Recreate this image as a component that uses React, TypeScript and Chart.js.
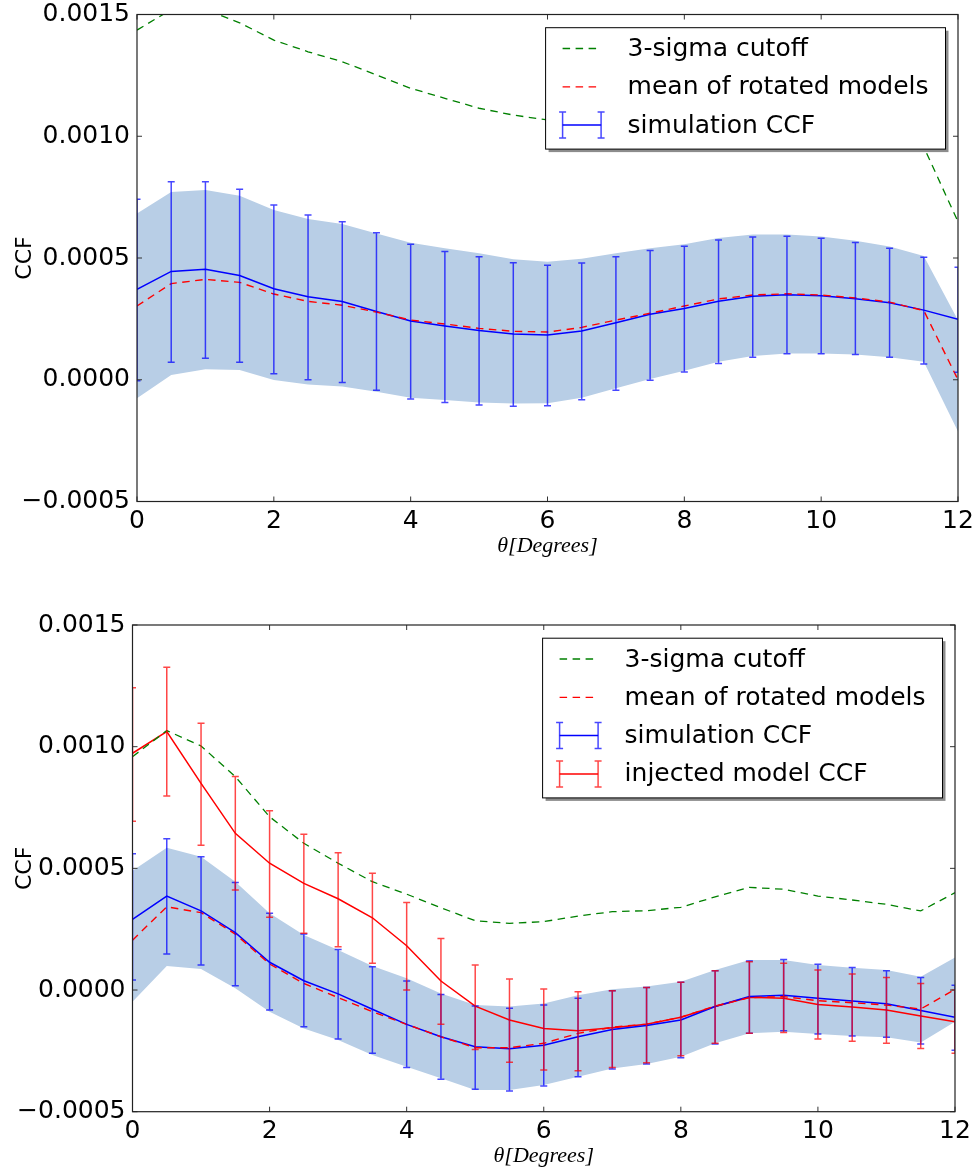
import React, { useEffect, useRef } from "react";
import { Chart, registerables } from "chart.js";

Chart.register(...registerables);

// ---------------- data ----------------
const THETA = [0, 0.5, 1, 1.5, 2, 2.5, 3, 3.5, 4, 4.5, 5, 5.5, 6, 6.5, 7, 7.5, 8, 8.5, 9, 9.5, 10, 10.5, 11, 11.5, 12];

const X_TICK_STEP = 2;
const Y_TICK_STEP = 0.0005;
const Y_MIN = -0.0005;
const Y_MAX = 0.0015;

const LABEL_CUTOFF = "3-sigma cutoff";
const LABEL_MEAN = "mean of rotated models";
const LABEL_SIM = "simulation CCF";
const LABEL_INJ = "injected model CCF";
const X_TITLE = "θ[Degrees]";
const Y_TITLE = "CCF";

// top panel
const cutoffTop = [0.001436, 0.00152, 0.00152, 0.001466, 0.001395, 0.001347, 0.001306, 0.001252, 0.001197, 0.001156, 0.001115, 0.001087, 0.001067, 0.00106, 0.00105, 0.00104, 0.00103, 0.00102, 0.00101, 0.001, 0.00099, 0.00098, 0.00097, 0.000956, 0.000649];
const meanTop = [0.000303, 0.000395, 0.000412, 0.0004, 0.000352, 0.000322, 0.000306, 0.000278, 0.000245, 0.000229, 0.000211, 0.000199, 0.000196, 0.000215, 0.000245, 0.000273, 0.000303, 0.000332, 0.000348, 0.000353, 0.000348, 0.000336, 0.000319, 0.000284, 0.0];
const simTop = [0.000371, 0.000445, 0.000454, 0.000428, 0.000374, 0.000341, 0.000321, 0.00028, 0.000241, 0.000221, 0.000202, 0.000188, 0.000184, 0.0002, 0.000234, 0.000269, 0.000293, 0.000322, 0.000343, 0.000349, 0.000345, 0.000333, 0.000316, 0.000286, 0.000248];
const simHiTop = [0.000741, 0.000813, 0.000813, 0.000782, 0.000718, 0.000677, 0.000649, 0.000604, 0.000556, 0.000527, 0.000505, 0.000481, 0.00047, 0.000479, 0.000505, 0.000531, 0.000548, 0.000574, 0.000586, 0.000589, 0.000581, 0.000564, 0.00054, 0.000503, 0.000462];
const simLoTop = [-0.000004, 0.000072, 0.000088, 0.000072, 0.000025, 0.0, -0.000011, -0.000043, -0.000079, -0.000093, -0.000104, -0.000109, -0.000107, -0.000082, -0.000043, -0.000002, 0.000032, 0.000067, 0.000092, 0.000107, 0.000107, 0.000104, 0.000092, 0.000065, 0.000031];
const bandHiTop = [0.000683, 0.000771, 0.000779, 0.000756, 0.000697, 0.00066, 0.00064, 0.000601, 0.000563, 0.00054, 0.000519, 0.000495, 0.000485, 0.000497, 0.000519, 0.00054, 0.000556, 0.000582, 0.000596, 0.000597, 0.000588, 0.000571, 0.000547, 0.000508, 0.000244];
const bandLoTop = [-0.000076, 0.00002, 0.000043, 0.00004, -0.000001, -0.000019, -0.000028, -0.000049, -0.000074, -0.000083, -0.000093, -0.000098, -0.000097, -0.000074, -0.000035, 0.000003, 0.000037, 0.000074, 0.000098, 0.000108, 0.000108, 0.000104, 0.000092, 0.000074, -0.000213];

// bottom panel
const cutoffBot = [0.000959, 0.001066, 0.001003, 0.000877, 0.000712, 0.000603, 0.000521, 0.000445, 0.000394, 0.000338, 0.000285, 0.000274, 0.000281, 0.000304, 0.000322, 0.000326, 0.00034, 0.000383, 0.000422, 0.000414, 0.000386, 0.00037, 0.000352, 0.000325, 0.0004];
const meanBot = [0.000205, 0.000342, 0.000318, 0.00023, 0.000107, 0.000027, -0.000031, -0.000089, -0.000141, -0.000192, -0.000237, -0.000237, -0.000219, -0.000178, -0.000153, -0.00014, -0.000112, -0.000066, -0.000031, -0.000027, -0.000044, -0.000052, -0.000062, -0.000078, 0.000003];
const simBot = [0.00029, 0.000386, 0.000325, 0.000236, 0.000114, 0.000038, -0.000016, -0.000079, -0.000141, -0.000192, -0.000233, -0.000241, -0.000227, -0.000192, -0.000162, -0.000146, -0.000123, -0.000068, -0.000027, -0.000021, -0.000034, -0.000045, -0.000056, -0.000084, -0.000112];
const simHiBot = [0.00056, 0.000622, 0.000548, 0.000442, 0.000315, 0.00023, 0.000167, 0.000096, 0.000037, -0.000018, -0.000066, -0.000075, -0.000062, -0.000034, -0.000003, 0.00001, 0.000032, 0.000079, 0.000119, 0.000125, 0.000106, 0.000093, 0.000079, 0.000051, 0.00002];
const simLoBot = [0.000041, 0.000148, 0.000103, 0.000018, -0.000082, -0.000151, -0.000201, -0.00026, -0.000318, -0.000367, -0.000408, -0.000415, -0.000394, -0.000356, -0.000325, -0.000304, -0.000278, -0.000222, -0.000178, -0.000167, -0.000181, -0.000189, -0.000194, -0.000222, -0.000247];
const injBot = [0.000973, 0.001062, 0.000849, 0.000644, 0.000521, 0.000438, 0.000375, 0.000297, 0.000182, 0.000037, -0.000066, -0.000123, -0.000158, -0.000167, -0.000155, -0.000141, -0.000112, -0.000068, -0.00003, -0.000034, -0.000059, -0.00007, -0.000082, -0.000107, -0.00013];
const injHiBot = [0.001242, 0.001326, 0.001096, 0.000877, 0.000737, 0.00064, 0.000564, 0.00048, 0.00036, 0.000212, 0.000103, 0.000045, 0.000004, -0.000007, -0.000003, 0.00001, 0.000032, 0.000079, 0.000116, 0.00011, 0.000082, 0.000066, 0.000051, 0.000027, 0.0];
const injLoBot = [0.000694, 0.000797, 0.000595, 0.000411, 0.000299, 0.000233, 0.000178, 0.00011, 0.0, -0.000141, -0.000244, -0.000297, -0.000329, -0.000332, -0.000318, -0.000299, -0.00027, -0.000219, -0.000178, -0.000175, -0.000201, -0.00021, -0.000219, -0.00024, -0.00026];
const bandHiBot = [0.00049, 0.000585, 0.000548, 0.000445, 0.000315, 0.000226, 0.000164, 0.000099, 0.000048, -0.000014, -0.000062, -0.000068, -0.000055, -0.000021, 0.000003, 0.000014, 0.000034, 0.000082, 0.000123, 0.000123, 0.000103, 0.000092, 0.000082, 0.000055, 0.000134];
const bandLoBot = [-0.000048, 0.000099, 0.000086, 0.000007, -0.000089, -0.000158, -0.000205, -0.000267, -0.000315, -0.000363, -0.000411, -0.000411, -0.00039, -0.000356, -0.000322, -0.000304, -0.000274, -0.000219, -0.000178, -0.000171, -0.000181, -0.000189, -0.000194, -0.000216, -0.00013];

// ---------------- style ----------------
const GREEN = "#008000";
const RED = "#ff0000";
const BLUE = "#0000ff";
const BLUE_ERR = "rgba(0,0,255,0.72)";
const RED_ERR = "rgba(255,0,0,0.72)";
const BAND = "rgb(184,206,230)";
const FONT = '"DejaVu Sans", sans-serif';
const TICK_SIZE = 25;
const DASH = [7.5, 5.5];

type ErrSet = { hi: number[]; lo: number[]; color: string };
type LegendItem = { label: string; kind: "dash" | "err"; color: string; barColor?: string };

type Panel = {
  canvasTop: number;
  canvasHeight: number;
  left: number;
  right: number;
  top: number;
  bottom: number;
  lines: { label: string; data: number[]; color: string; dash?: number[]; width: number }[];
  bandHi: number[];
  bandLo: number[];
  errors: ErrSet[];
  legend: LegendItem[];
};

const W = 973;

const panels: Panel[] = [
  {
    canvasTop: 0,
    canvasHeight: 580,
    left: 137,
    right: 958,
    top: 14.5,
    bottom: 501.5,
    lines: [
      { label: LABEL_CUTOFF, data: cutoffTop, color: GREEN, dash: DASH, width: 1.3 },
      { label: LABEL_MEAN, data: meanTop, color: RED, dash: DASH, width: 1.4 },
      { label: LABEL_SIM, data: simTop, color: BLUE, width: 1.5 },
    ],
    bandHi: bandHiTop,
    bandLo: bandLoTop,
    errors: [{ hi: simHiTop, lo: simLoTop, color: BLUE_ERR }],
    legend: [
      { label: LABEL_CUTOFF, kind: "dash", color: GREEN },
      { label: LABEL_MEAN, kind: "dash", color: RED },
      { label: LABEL_SIM, kind: "err", color: BLUE, barColor: BLUE_ERR },
    ],
  },
  {
    canvasTop: 580,
    canvasHeight: 589,
    left: 132.5,
    right: 955,
    top: 45,
    bottom: 531.7,
    lines: [
      { label: LABEL_CUTOFF, data: cutoffBot, color: GREEN, dash: DASH, width: 1.3 },
      { label: LABEL_MEAN, data: meanBot, color: RED, dash: DASH, width: 1.4 },
      { label: LABEL_SIM, data: simBot, color: BLUE, width: 1.5 },
      { label: LABEL_INJ, data: injBot, color: RED, width: 1.5 },
    ],
    bandHi: bandHiBot,
    bandLo: bandLoBot,
    errors: [
      { hi: simHiBot, lo: simLoBot, color: BLUE_ERR },
      { hi: injHiBot, lo: injLoBot, color: RED_ERR },
    ],
    legend: [
      { label: LABEL_CUTOFF, kind: "dash", color: GREEN },
      { label: LABEL_MEAN, kind: "dash", color: RED },
      { label: LABEL_SIM, kind: "err", color: BLUE, barColor: BLUE_ERR },
      { label: LABEL_INJ, kind: "err", color: RED, barColor: RED_ERR },
    ],
  },
];

function fmtY(v: number): string {
  if (Math.abs(v) < 1e-12) return "0.0000";
  const s = Math.abs(v).toFixed(4);
  return v < 0 ? "\u2212" + s : s;
}

function makePlugin(p: Panel) {
  return {
    id: "decor",
    afterDatasetsDraw(chart: any) {
      const { ctx, chartArea: a } = chart;
      const xs = chart.scales.x;
      const ys = chart.scales.y;
      ctx.save();
      ctx.beginPath();
      ctx.rect(a.left, a.top, a.right - a.left, a.bottom - a.top);
      ctx.clip();
      ctx.setLineDash([]);
      for (const e of p.errors) {
        ctx.strokeStyle = e.color;
        ctx.lineWidth = 1.5;
        THETA.forEach((t, i) => {
          const px = xs.getPixelForValue(t);
          const y1 = ys.getPixelForValue(e.hi[i]);
          const y2 = ys.getPixelForValue(e.lo[i]);
          ctx.beginPath();
          ctx.moveTo(px, y1);
          ctx.lineTo(px, y2);
          ctx.moveTo(px - 3.5, y1);
          ctx.lineTo(px + 3.5, y1);
          ctx.moveTo(px - 3.5, y2);
          ctx.lineTo(px + 3.5, y2);
          ctx.stroke();
        });
      }
      ctx.restore();
    },
    afterDraw(chart: any) {
      const { ctx, chartArea: a } = chart;
      const xs = chart.scales.x;
      const ys = chart.scales.y;
      ctx.save();
      ctx.setLineDash([]);
      // inward ticks
      ctx.strokeStyle = "#333";
      ctx.lineWidth = 1;
      const TL = 5;
      for (const tk of xs.ticks) {
        const px = xs.getPixelForValue(tk.value);
        ctx.beginPath();
        ctx.moveTo(px, a.bottom);
        ctx.lineTo(px, a.bottom - TL);
        ctx.moveTo(px, a.top);
        ctx.lineTo(px, a.top + TL);
        ctx.stroke();
      }
      for (const tk of ys.ticks) {
        const py = ys.getPixelForValue(tk.value);
        ctx.beginPath();
        ctx.moveTo(a.left, py);
        ctx.lineTo(a.left + TL, py);
        ctx.moveTo(a.right, py);
        ctx.lineTo(a.right - TL, py);
        ctx.stroke();
      }
      // frame
      ctx.strokeStyle = "#222";
      ctx.lineWidth = 1.2;
      ctx.strokeRect(a.left, a.top, a.right - a.left, a.bottom - a.top);

      // legend
      const fs = 25;
      ctx.font = `${fs}px ${FONT}`;
      const textW = Math.max(...p.legend.map((l) => ctx.measureText(l.label).width));
      const rowH = 38.3;
      const boxW = 82 + textW + 17;
      const boxH = p.legend.length * rowH + 6.5;
      const bx = a.right - 12.5 - boxW;
      const by = a.top + 13.2;
      ctx.fillStyle = "rgba(0,0,0,0.45)";
      ctx.fillRect(bx + 3, by + 3, boxW, boxH);
      ctx.fillStyle = "#fff";
      ctx.fillRect(bx, by, boxW, boxH);
      ctx.strokeStyle = "#000";
      ctx.lineWidth = 1;
      ctx.strokeRect(bx, by, boxW, boxH);
      p.legend.forEach((l, k) => {
        const cy = by + 20.8 + k * rowH;
        const x0 = bx + 17;
        const x1 = x0 + 38.5;
        if (l.kind === "dash") {
          ctx.strokeStyle = l.color;
          ctx.lineWidth = 1.3;
          ctx.setLineDash(DASH);
          ctx.beginPath();
          ctx.moveTo(x0, cy);
          ctx.lineTo(x0 + 33.7, cy);
          ctx.stroke();
          ctx.setLineDash([]);
        } else {
          ctx.strokeStyle = l.barColor || l.color;
          ctx.lineWidth = 1.5;
          ctx.beginPath();
          for (const xx of [x0, x1]) {
            ctx.moveTo(xx, cy - 13);
            ctx.lineTo(xx, cy + 13);
            ctx.moveTo(xx - 3.5, cy - 13);
            ctx.lineTo(xx + 3.5, cy - 13);
            ctx.moveTo(xx - 3.5, cy + 13);
            ctx.lineTo(xx + 3.5, cy + 13);
          }
          ctx.stroke();
          ctx.strokeStyle = l.color;
          ctx.beginPath();
          ctx.moveTo(x0, cy);
          ctx.lineTo(x1, cy);
          ctx.stroke();
        }
        ctx.fillStyle = "#000";
        ctx.textAlign = "left";
        ctx.textBaseline = "middle";
        ctx.fillText(l.label, bx + 82, cy + 1);
      });

      // axis titles
      ctx.fillStyle = "#000";
      ctx.font = `italic 22px "Liberation Serif", serif`;
      ctx.textAlign = "center";
      ctx.textBaseline = "middle";
      ctx.fillText(X_TITLE, (a.left + a.right) / 2, a.bottom + 45);
      ctx.save();
      ctx.translate(25, (a.top + a.bottom) / 2);
      ctx.rotate(-Math.PI / 2);
      ctx.font = `22px ${FONT}`;
      ctx.fillText(Y_TITLE, 0, 0);
      ctx.restore();
      ctx.restore();
    },
  };
}

function buildConfig(p: Panel): any {
  const pts = (arr: number[]) => THETA.map((t, i) => ({ x: t, y: arr[i] }));
  const datasets: any[] = p.lines.map((l) => ({
    label: l.label,
    data: pts(l.data),
    borderColor: l.color,
    borderWidth: l.width,
    borderDash: l.dash || [],
    pointRadius: 0,
    fill: false,
    tension: 0,
    order: 1,
  }));
  datasets.push({
    label: "band upper",
    data: pts(p.bandHi),
    borderColor: "rgba(0,0,0,0)",
    borderWidth: 1,
    backgroundColor: BAND,
    pointRadius: 0,
    fill: "+1",
    tension: 0,
    order: 10,
  });
  datasets.push({
    label: "band lower",
    data: pts(p.bandLo),
    borderColor: "rgba(0,0,0,0)",
    borderWidth: 1,
    pointRadius: 0,
    fill: false,
    tension: 0,
    order: 10,
  });
  const H = p.canvasHeight - p.bottom;
  return {
    type: "line",
    data: { datasets },
    options: {
      responsive: false,
      animation: false,
      devicePixelRatio: 1,
      events: [],
      layout: { padding: { left: 0, right: W - p.right, top: p.top, bottom: 0 } },
      plugins: {
        legend: { display: false },
        tooltip: { enabled: false },
        filler: { drawTime: "beforeDatasetsDraw" },
      },
      scales: {
        x: {
          type: "linear",
          min: 0,
          max: 12,
          grid: { display: false, drawTicks: false },
          border: { display: false },
          ticks: {
            stepSize: X_TICK_STEP,
            padding: 5,
            color: "#000",
            maxRotation: 0,
            autoSkip: false,
            font: { family: FONT, size: TICK_SIZE },
            callback: (v: number) => String(v),
          },
          afterFit: (s: any) => {
            s.height = H;
            s.paddingLeft = 0;
            s.paddingRight = 0;
          },
        },
        y: {
          type: "linear",
          min: Y_MIN,
          max: Y_MAX,
          grid: { display: false, drawTicks: false },
          border: { display: false },
          ticks: {
            stepSize: Y_TICK_STEP,
            padding: 7,
            color: "#000",
            autoSkip: false,
            font: { family: FONT, size: TICK_SIZE },
            callback: (v: number) => fmtY(v),
          },
          afterFit: (s: any) => {
            s.width = p.left;
            s.paddingTop = 0;
            s.paddingBottom = 0;
          },
        },
      },
    },
    plugins: [makePlugin(p)],
  };
}

function PanelChart({ p }: { p: Panel }) {
  const ref = useRef<HTMLCanvasElement>(null);
  useEffect(() => {
    if (!ref.current) return;
    const chart = new Chart(ref.current, buildConfig(p));
    return () => chart.destroy();
  }, [p]);
  return (
    <canvas
      ref={ref}
      width={W}
      height={p.canvasHeight}
      style={{ position: "absolute", left: 0, top: p.canvasTop, width: W, height: p.canvasHeight, display: "block" }}
    />
  );
}

export default function App() {
  return (
    <div style={{ position: "absolute", left: 0, top: 0, width: W, height: 1169, background: "#fff" }}>
      {panels.map((p, i) => (
        <PanelChart key={i} p={p} />
      ))}
    </div>
  );
}
